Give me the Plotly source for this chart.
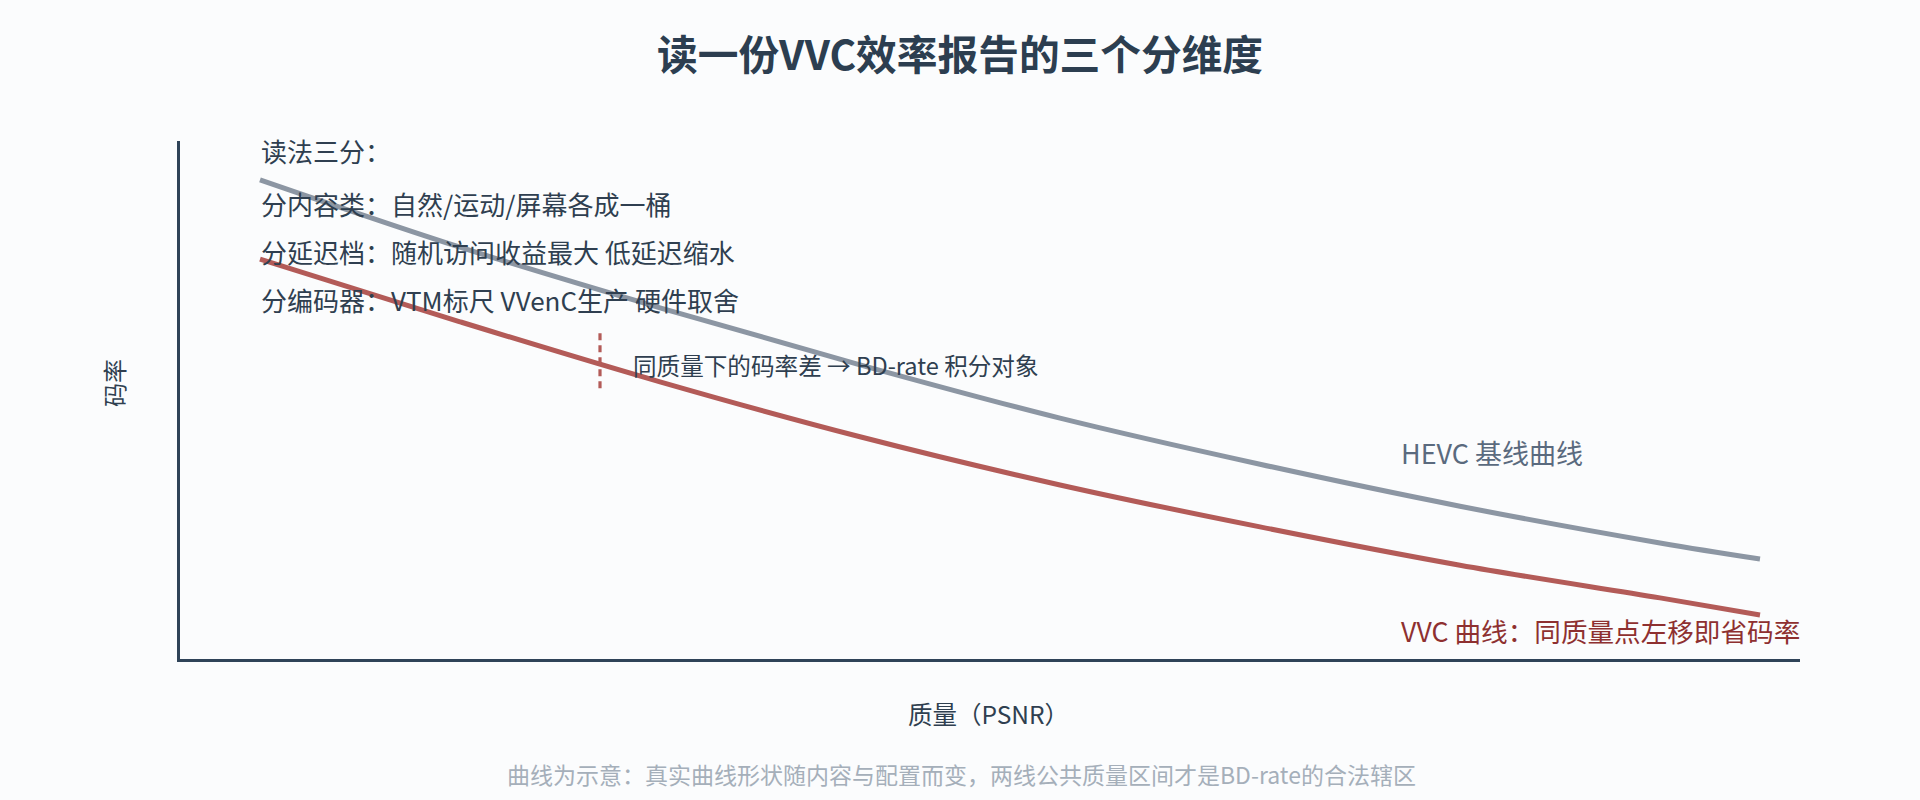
import plotly.graph_objects as go

# ---- data (schematic units) ----
quality_psnr = [30, 32, 34, 36, 38, 40, 42, 44, 45]
hevc_rate = [9.25, 7.95, 6.78, 5.68, 4.65, 3.76, 2.95, 2.24, 1.93]
vvc_rate = [7.72, 6.51, 5.35, 4.29, 3.36, 2.55, 1.81, 1.18, 0.85]

marker_q = 33.4
marker_rate = [6.29, 5.17]

title_text = "读一份VVC效率报告的三个分维度"
notes = [
    "读法三分：",
    "分内容类：自然/运动/屏幕各成一桶",
    "分延迟档：随机访问收益最大 低延迟缩水",
    "分编码器：VTM标尺 VVenC生产 硬件取舍",
]
note_rows = [151, 203, 251, 299]
gap_note = "同质量下的码率差 → BD-rate 积分对象"
hevc_label = "HEVC 基线曲线"
vvc_label = "VVC 曲线：同质量点左移即省码率"
x_title = "质量（PSNR）"
y_title = "码率"
footnote = "曲线为示意：真实曲线形状随内容与配置而变，两线公共质量区间才是BD-rate的合法辖区"

FONT = "Noto Sans CJK SC"
BG = "#fbfcfd"
W, H = 1920, 800
OFF = 8  # page body offset
L, T = 180 - OFF, 141 - OFF
R = W - (1800 - OFF)
B = H - (659 - OFF)
PW, PH = W - L - R, H - T - B


def px(xp):
    return (xp - OFF - L) / PW


def py(yp):
    return (H - B - (yp - OFF)) / PH


fig = go.Figure()
fig.add_trace(go.Scatter(x=quality_psnr, y=hevc_rate, mode="lines",
                         line=dict(color="#8c96a3", width=5, shape="spline"),
                         hoverinfo="skip"))
fig.add_trace(go.Scatter(x=quality_psnr, y=vvc_rate, mode="lines",
                         line=dict(color="#b35b58", width=5, shape="spline"),
                         hoverinfo="skip"))

fig.add_shape(type="line", xref="x", yref="y", x0=marker_q, x1=marker_q,
              y0=marker_rate[0], y1=marker_rate[1],
              line=dict(color="#b35b58", width=3.2, dash="7px,5px"))

ann = []
ann.append(dict(text=f"<b>{title_text}</b>", x=px(960), y=py(52), xref="paper", yref="paper",
                xanchor="center", yanchor="middle", showarrow=False,
                font=dict(family=FONT, size=40.7, color="#2c3e50")))
for t, r in zip(notes, note_rows):
    ann.append(dict(text=t, x=px(259), y=py(r), xref="paper", yref="paper",
                    xanchor="left", yanchor="middle", showarrow=False,
                    font=dict(family=FONT, size=26, color="#2f3f50")))
ann.append(dict(text=gap_note, x=px(631), y=py(365), xref="paper", yref="paper",
                xanchor="left", yanchor="middle", showarrow=False,
                font=dict(family=FONT, size=23.6, color="#2f3f50")))
ann.append(dict(text=hevc_label, x=px(1399), y=py(452), xref="paper", yref="paper",
                xanchor="left", yanchor="middle", showarrow=False,
                font=dict(family=FONT, size=27, color="#5a6a7e")))
ann.append(dict(text=vvc_label, x=px(1399), y=py(630), xref="paper", yref="paper",
                xanchor="left", yanchor="middle", showarrow=False,
                font=dict(family=FONT, size=26.6, color="#8e3030")))
ann.append(dict(text=x_title, x=px(988), y=py(713), xref="paper", yref="paper",
                xanchor="center", yanchor="middle", showarrow=False,
                font=dict(family=FONT, size=24.5, color="#2f3f50")))
ann.append(dict(text=y_title, x=px(113), y=py(383), xref="paper", yref="paper",
                xanchor="center", yanchor="middle", showarrow=False, textangle=-90,
                font=dict(family=FONT, size=24, color="#2f3f50")))
ann.append(dict(text=footnote, x=px(961), y=py(774), xref="paper", yref="paper",
                xanchor="center", yanchor="middle", showarrow=False,
                font=dict(family=FONT, size=23, color="#a5afba")))

fig.update_layout(
    width=W, height=H,
    margin=dict(l=L, r=R, t=T, b=B, pad=0),
    paper_bgcolor=BG, plot_bgcolor=BG,
    showlegend=False,
    annotations=ann,
    font=dict(family=FONT),
    xaxis=dict(range=[29.2, 45.4], showgrid=False, zeroline=False, showticklabels=False,
               ticks="", showline=True, linecolor="#2f4358", linewidth=3),
    yaxis=dict(range=[0, 10], showgrid=False, zeroline=False, showticklabels=False,
               ticks="", showline=True, linecolor="#2f4358", linewidth=3),
)

fig.write_html("out.html", config={"displayModeBar": False},
               post_script=f"document.body.style.background='{BG}';")
